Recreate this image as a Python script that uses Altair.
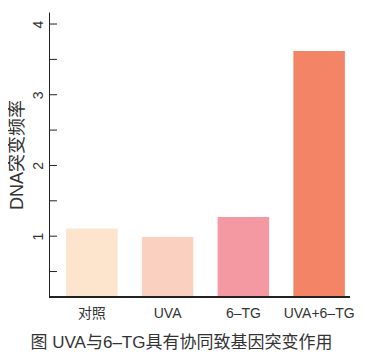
import altair as alt
import pandas as pd

categories = ["对照", "UVA", "6–TG", "UVA+6–TG"]
values = [1.11, 0.99, 1.27, 3.62]
colors = ["#FDE4CD", "#FAD1C1", "#F498A2", "#F38566"]
tick_values = [0.5, 1, 1.5, 2, 2.5, 3, 3.5, 4]
label_values = [1, 2, 3, 4]
y_min, y_max = 0.14, 4.17

W, H = 301, 285
FONT = "Liberation Sans, Noto Sans CJK SC"

df = pd.DataFrame({"cat": categories, "val": values, "color": colors})
ticks_df = pd.DataFrame({"t": tick_values})

yscale = alt.Scale(domain=[y_min, y_max], nice=False, zero=False)
xscale = alt.Scale(domain=categories, range=[5, 308], paddingInner=0.32, paddingOuter=0.16)

bars = alt.Chart(df).mark_bar().encode(
    x=alt.X("cat:N", sort=categories, scale=xscale,
            axis=alt.Axis(title=None, labelAngle=0, domain=False, ticks=False,
                          labelPadding=9, labelFontSize=14, labelColor="#333",
                          labelFont=FONT)),
    y=alt.Y("val:Q", scale=yscale,
            axis=alt.Axis(title="DNA突变频率", values=label_values, format="d",
                          grid=False, ticks=False,
                          domainColor="#222", labelAngle=270, labelPadding=4,
                          labelFontSize=14, labelColor="#333", labelFont=FONT,
                          titleFontSize=18, titleFont=FONT, titleColor="#333",
                          titleFontWeight="normal", titlePadding=5)),
    y2=alt.datum(y_min),
    color=alt.Color("color:N", scale=None),
)

tick_marks = alt.Chart(ticks_df).mark_rule(color="#222", strokeWidth=1).encode(
    y=alt.Y("t:Q", scale=yscale),
    x=alt.value(0), x2=alt.value(8),
)

baseline = alt.Chart(ticks_df).mark_rule(color="#222", strokeWidth=1).encode(
    x=alt.value(0), x2=alt.value(W), y=alt.datum(y_min),
)

chart = alt.layer(bars, tick_marks, baseline).properties(
    width=W, height=H,
    padding={"left": 0, "top": 4, "right": 0, "bottom": 0},
    title=alt.TitleParams("图 UVA与6–TG具有协同致基因突变作用", orient="bottom",
                          anchor="middle", fontSize=17, font=FONT, color="#333",
                          fontWeight="normal", offset=15, dx=-18),
).configure_view(stroke=None)

chart.save("out.html", embed_options={"renderer": "svg", "actions": False})
